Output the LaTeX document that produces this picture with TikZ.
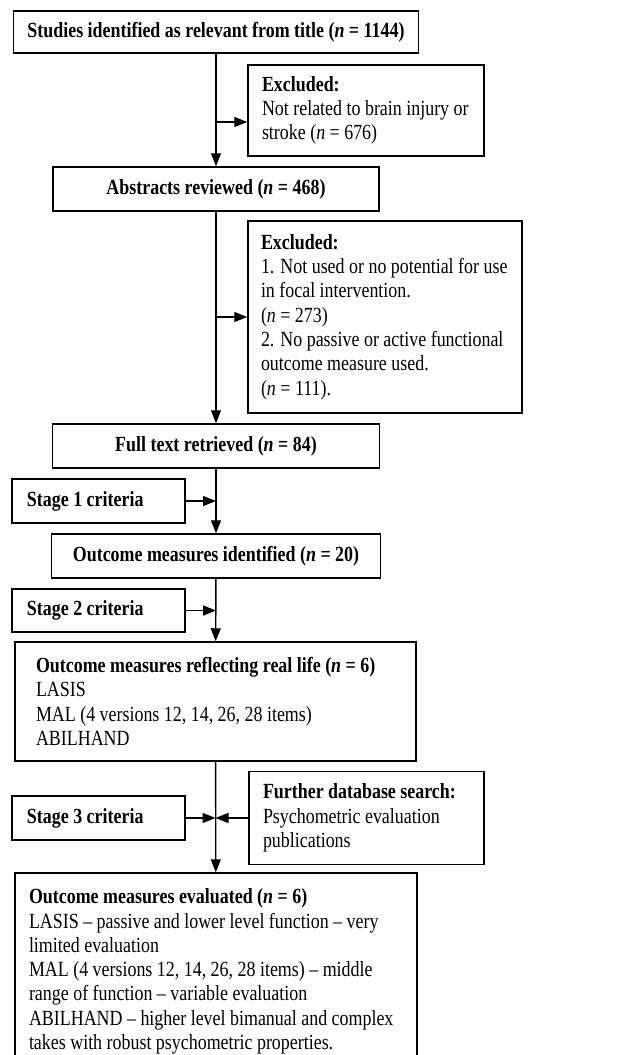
\documentclass[tikz,border=0pt]{standalone}
\usepackage{fontspec}
\setmainfont{Liberation Serif}[FakeStretch=0.83]
\usetikzlibrary{arrows.meta}
\tikzset{
  box/.style={draw, line width=1.5pt, inner ysep=0pt, font=\fontsize{21.6}{24.3}\selectfont},
  lbox/.style={box, align=flush left},
  arr/.style={-{Triangle[length=13pt,width=10pt]}, line width=1.4pt},
}

\begin{document}
\begin{tikzpicture}[x=1pt, y=-1pt]
                \path[use as bounding box, clip] (0,0) rectangle (619,1055);

                \node[box, minimum width=405pt, minimum height=42pt] (studies) at (216,32) {\textbf{Studies identified as relevant from title (\textit{n} = 1144)}};
                \node[lbox, inner xsep=14pt, text width=208pt, minimum height=91pt] (excl1) at (366,110.5) {\textbf{Excluded:}\\Not related to brain injury or\\stroke (\textit{n} = 676)};
                \node[box, minimum width=326pt, minimum height=44pt] (abstracts) at (216,189) {\textbf{Abstracts reviewed (\textit{n} = 468)}};
                \node[lbox, inner xsep=13pt, text width=248pt, minimum height=192pt] (excl2) at (385,317) {\textbf{Excluded:}\\1. Not used or no potential for use\\in focal intervention.\\(\textit{n} = 273)\\2. No passive or active functional\\outcome measure used.\\(\textit{n} = 111).};
                \node[box, minimum width=327pt, minimum height=44pt] (fulltext) at (216,446) {\textbf{Full text retrieved (\textit{n} = 84)}};
                \node[lbox, inner xsep=15pt, text width=143pt, minimum height=44pt] (stage1) at (98.5,501) {\textbf{Stage 1 criteria}};
                \node[box, minimum width=329pt, minimum height=44pt] (identified) at (216,556) {\textbf{Outcome measures identified (\textit{n} = 20)}};
                \node[lbox, inner xsep=15pt, text width=143pt, minimum height=43pt] (stage2) at (98.5,610.5) {\textbf{Stage 2 criteria}};
                \node[lbox, inner xsep=21pt, text width=359pt, minimum height=119pt] (reallife) at (215.5,701.5) {\textbf{Outcome measures reflecting real life (\textit{n} = 6)}\\LASIS\\MAL (4 versions 12, 14, 26, 28 items)\\ABILHAND};
                \node[lbox, inner xsep=14pt, text width=207pt, minimum height=93pt] (further) at (366.5,818) {\textbf{Further database search:}\\Psychometric evaluation\\publications};
                \node[lbox, inner xsep=15pt, text width=143pt, minimum height=44pt] (stage3) at (98.5,818) {\textbf{Stage 3 criteria}};
                \node[lbox, inner xsep=14pt, text width=374pt, minimum height=197pt] (evaluated) at (216,971.5) {\textbf{Outcome measures evaluated (\textit{n} = 6)}\\LASIS -- passive and lower level function -- very\\limited evaluation\\MAL (4 versions 12, 14, 26, 28 items) -- middle\\range of function -- variable evaluation\\ABILHAND -- higher level bimanual and complex\\takes with robust psychometric properties.};

                \coordinate (e1) at ([yshift=-11.5pt]excl1.west);
                \draw[arr] (studies) -- (abstracts);
                \draw[arr] (e1 -| studies) -- (e1);
                \draw[arr] (abstracts) -- (fulltext);
                \draw[arr] (excl2.west -| abstracts) -- (excl2.west);
                \draw[arr] (fulltext) -- (identified);
                \draw[arr] (stage1) -- (stage1 -| fulltext);
                \draw[arr] (identified) -- (reallife);
                \draw[arr] (stage2) -- (stage2 -| identified);
                \draw[arr] (reallife) -- (evaluated);
                \draw[arr] (stage3) -- (stage3 -| reallife);
                \draw[arr] (further) -- (further -| reallife);
\end{tikzpicture}
\end{document}
